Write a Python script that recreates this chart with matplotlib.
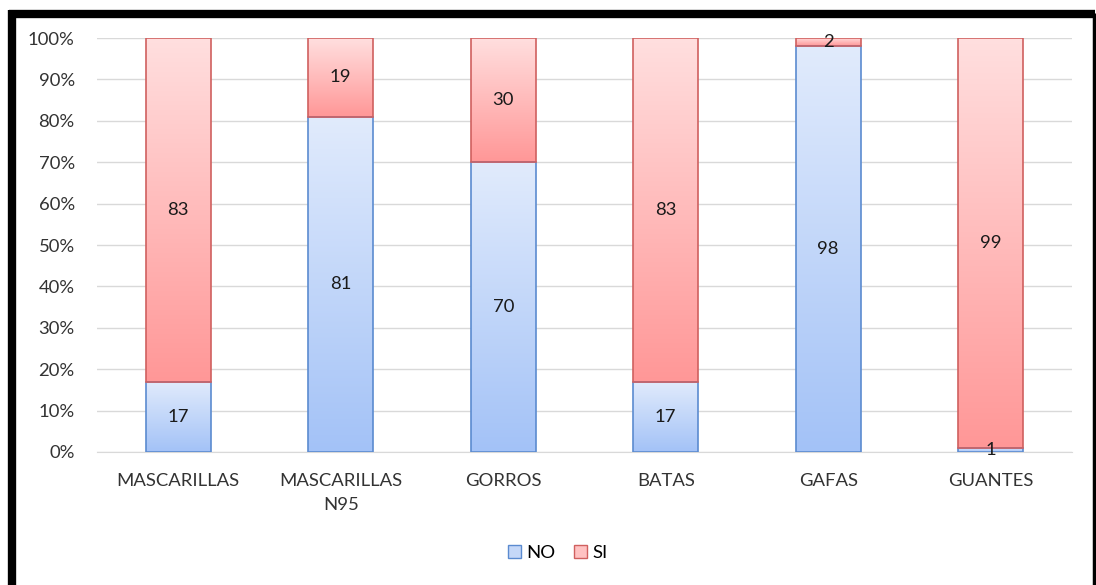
import matplotlib
matplotlib.use("Agg")
import matplotlib.pyplot as plt
import numpy as np
from matplotlib.colors import LinearSegmentedColormap
from matplotlib.lines import Line2D
from matplotlib.patches import Patch

categories = ["MASCARILLAS", "MASCARILLAS\nN95", "GORROS", "BATAS", "GAFAS", "GUANTES"]
no_vals = [17, 81, 70, 17, 98, 1]
si_vals = [83, 19, 30, 83, 2, 99]
yticks = [0, 10, 20, 30, 40, 50, 60, 70, 80, 90, 100]
ytick_labels = [f"{v}%" for v in yticks]

plt.rcParams['font.family'] = ['Lato', 'DejaVu Sans']

W, H = 1096, 585
fig = plt.figure(figsize=(W / 100, H / 100), dpi=100)
ax = fig.add_axes([97 / W, 1 - 452 / H, (1072 - 97) / W, (452 - 38) / H])

x = np.arange(len(categories))
width = 0.4
FS = 13.3

blue_cmap = LinearSegmentedColormap.from_list("b", ["#a3c2f7", "#e1ebfc"])
red_cmap = LinearSegmentedColormap.from_list("r", ["#ff9797", "#ffdfdf"])
grad = np.linspace(0, 1, 256).reshape(-1, 1)

no_bars = ax.bar(x, no_vals, width, color="none", edgecolor="#5b8bd0", linewidth=1.2, zorder=3)
si_bars = ax.bar(x, si_vals, width, bottom=no_vals, color="none", edgecolor="#d0605f", linewidth=1.2, zorder=3)

for bars, cmap in ((no_bars, blue_cmap), (si_bars, red_cmap)):
    for b in bars:
        x0, y0, w, h = b.get_x(), b.get_y(), b.get_width(), b.get_height()
        im = ax.imshow(grad, cmap=cmap, origin="lower", aspect="auto",
                       extent=(x0, x0 + w, y0, y0 + h), zorder=2, interpolation="bilinear")
        im.set_clip_path(b)

for i in range(len(categories)):
    ax.text(x[i], no_vals[i] / 2, str(no_vals[i]), ha="center", va="center", fontsize=FS, color="#1a1a1a", zorder=5)
    ax.text(x[i], no_vals[i] + si_vals[i] / 2, str(si_vals[i]), ha="center", va="center", fontsize=FS, color="#1a1a1a", zorder=5)

ax.set_xlim(-0.5, 5.5)
ax.set_ylim(0, 100)
ax.set_yticks(yticks)
ax.set_yticklabels(ytick_labels, fontsize=FS, color="#333333")
ax.set_xticks(x)
ax.set_xticklabels(categories, fontsize=FS, color="#333333", linespacing=1.65)
ax.tick_params(axis="y", length=0, pad=16)
ax.tick_params(axis="x", length=0, pad=15)
ax.yaxis.grid(True, color="#d9d9d9", linewidth=1, zorder=0)
ax.set_axisbelow(True)
for s in ["top", "right", "left"]:
    ax.spines[s].set_visible(False)
ax.spines["bottom"].set_color("#d9d9d9")

handles = [Patch(facecolor="#c5d8f8", edgecolor="#5b8bd0", label="NO"),
           Patch(facecolor="#ffc2c2", edgecolor="#d0605f", label="SI")]
fig.legend(handles=handles, loc="center", bbox_to_anchor=(558 / W, 1 - 553 / H), ncol=2,
           frameon=False, fontsize=FS, handlelength=0.7, handleheight=0.7,
           handletextpad=0.3, columnspacing=1.0)

# black frame
fig.add_artist(Line2D([12 / W, 12 / W], [0, 1 - 10 / H], transform=fig.transFigure, color="black", linewidth=6, solid_capstyle="butt"))
fig.add_artist(Line2D([9 / W, 1095 / W], [1 - 13.5 / H, 1 - 13.5 / H], transform=fig.transFigure, color="black", linewidth=6, solid_capstyle="butt"))
fig.add_artist(Line2D([1093.5 / W, 1093.5 / W], [0, 1 - 13 / H], transform=fig.transFigure, color="black", linewidth=2.5, solid_capstyle="butt"))

fig.savefig("out.png", dpi=100, facecolor="white")
